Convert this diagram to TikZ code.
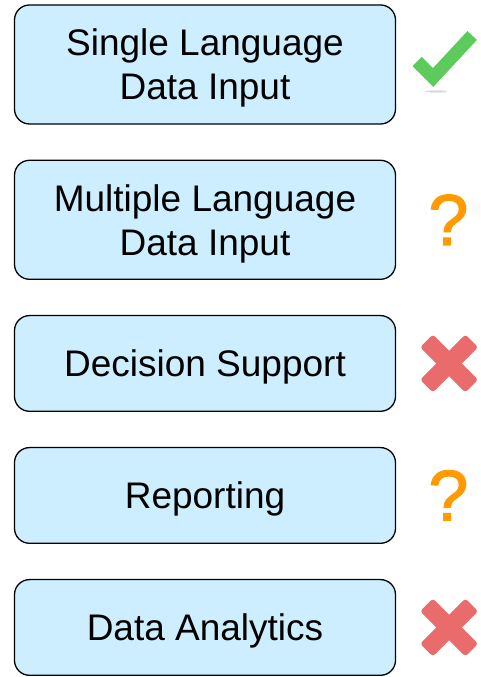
\documentclass[tikz,border=0pt]{standalone}
\usepackage{fontspec}
\setmainfont{Liberation Sans}
\newfontfamily\markfont[FakeBold=1.6]{Liberation Sans}
\usepackage{tikz}
\usetikzlibrary{positioning}
\definecolor{boxblue}{RGB}{204,238,255}
\definecolor{okgreen}{RGB}{93,203,91}
\definecolor{nored}{RGB}{234,107,107}
\definecolor{maybeorange}{RGB}{255,155,0}

\begin{document}
\begin{tikzpicture}[x=1pt, y=1pt, node distance=35pt,
	box/.style={draw, line width=1.3pt, rounded corners=15pt, fill=boxblue, minimum width=381pt, align=center, inner sep=0pt, text depth=0pt, font=\fontsize{37}{44}\selectfont},
	tall/.style={box, minimum height=119pt, text height=70.5pt},
	short/.style={box, minimum height=95.7pt, text height=26.5pt},
	maybe/.style={text=maybeorange, inner sep=0pt, font=\markfont\fontsize{72}{72}\selectfont},
	crossbar/.style={fill=nored, rounded corners=3pt, minimum width=64pt, minimum height=18pt, inner sep=0pt},
	tick/.style={draw=okgreen, line width=13pt, line join=miter}]
	\useasboundingbox (0,0) rectangle (481,677);
	
	\node[tall] (B1) at (205,612.5) {Single Language\\Data Input};
	\node[tall, below=of B1] (B2) {Multiple Language\\Data Input};
	\node[short, below=of B2] (B3) {Decision Support};
	\node[short, below=of B3] (B4) {Reporting};
	\node[short, below=of B4] (B5) {Data Analytics};
	
	% marks next to the boxes
	\coordinate[right=47pt of B1] (C1);
	\fill[gray!30] ([shift={(-7,-27)}]C1) ellipse (11 and 1.2);
	\draw[tick] ([shift={(-26,3)}]C1) -- ([shift={(-10,-13)}]C1) -- ([shift={(29,29)}]C1);
	
	\node[maybe, right=32pt of B2] (Q2) {?};
	\node[maybe, right=32pt of B4] (Q4) {?};
	
	\coordinate[right=53pt of B3] (X3);
	\node[crossbar, rotate=45] (X3a) at (X3) {};
	\node[crossbar, rotate=-45] (X3b) at (X3) {};
	
	\coordinate[right=53pt of B5] (X5);
	\node[crossbar, rotate=45] (X5a) at (X5) {};
	\node[crossbar, rotate=-45] (X5b) at (X5) {};
\end{tikzpicture}
\end{document}
